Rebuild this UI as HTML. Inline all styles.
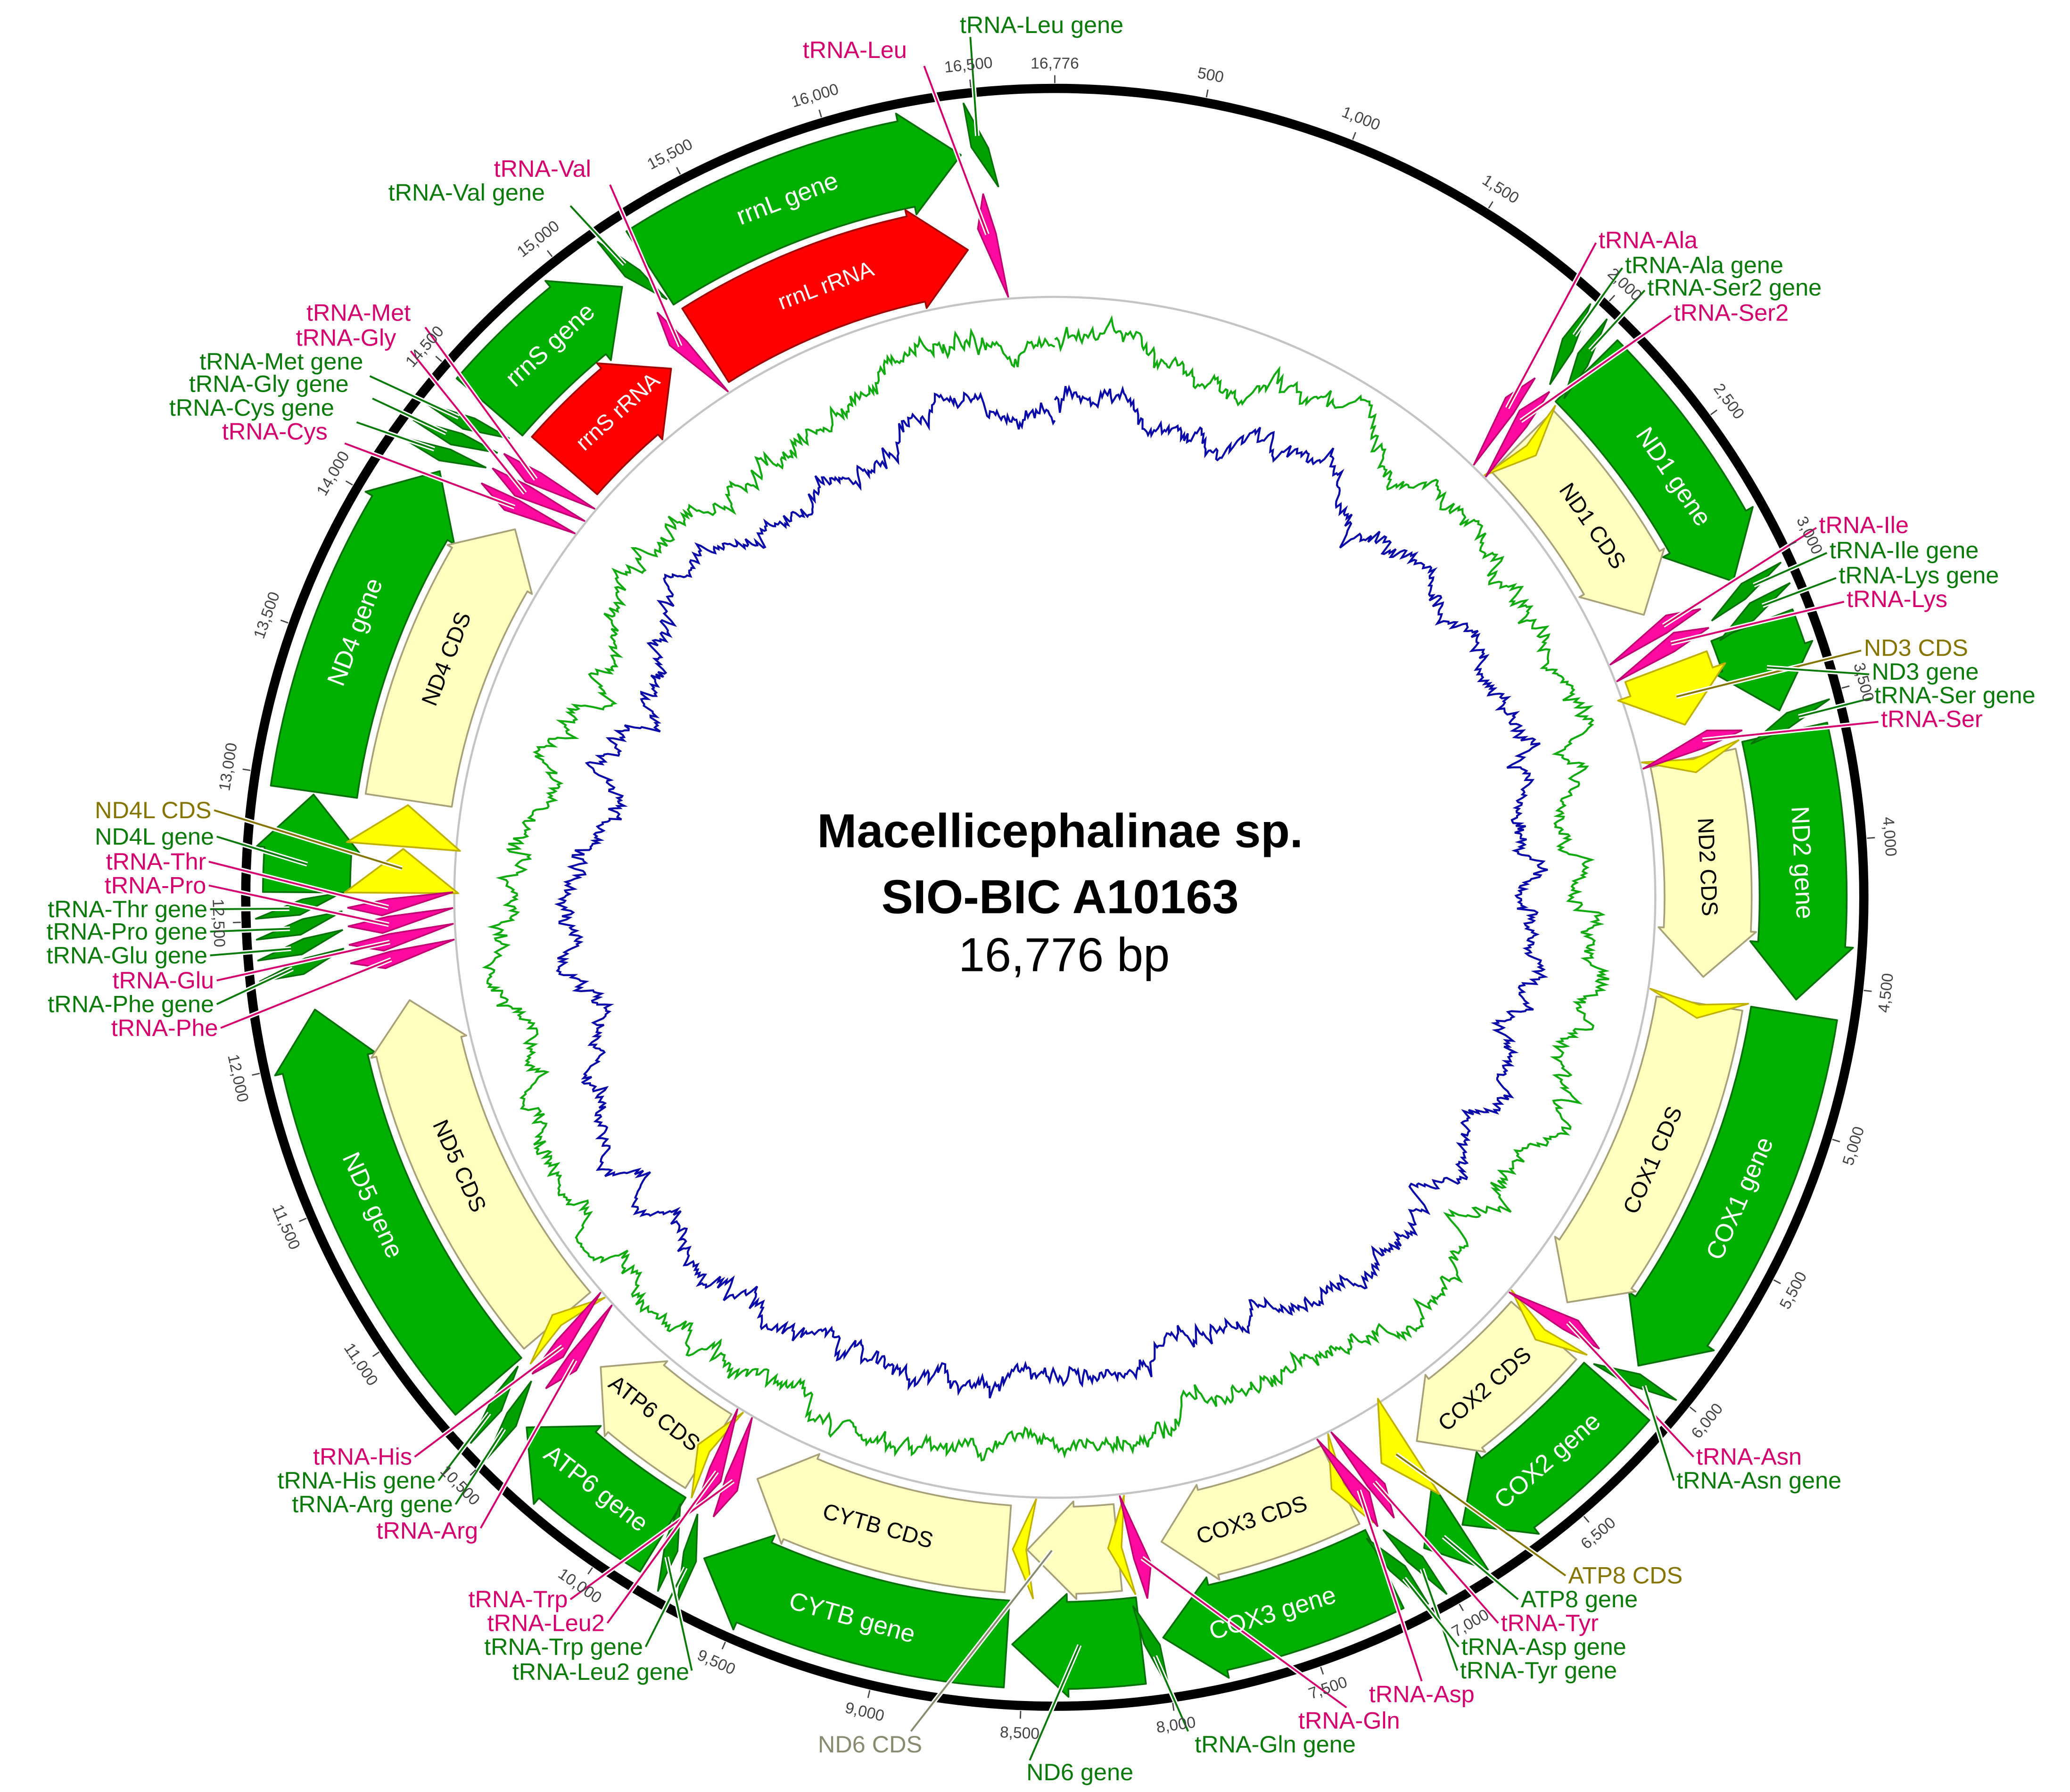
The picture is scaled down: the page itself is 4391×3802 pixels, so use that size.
<!DOCTYPE html>
<html><head><meta charset="utf-8">
<style>
html,body{margin:0;padding:0;background:#fff;}
svg{display:block;}
text{font-family:"Liberation Sans",sans-serif;}
.lp{fill:#d4006e;font-size:18px;}
.lg{fill:#0a7a0a;font-size:18px;}
.lo{fill:#857500;font-size:18px;}
.lx{fill:#8a8a70;font-size:18px;}
</style></head>
<body>
<svg id="s" width="4391" height="3802" viewBox="0 0 1568 1358" xmlns="http://www.w3.org/2000/svg">
<rect width="1568" height="1358" fill="#fff"/>
<g id="shapes"></g>
<g id="lines"></g>
<g id="ticks" font-size="12" fill="#444"></g>
<g id="ringtext"></g>
<text class="lg" x="727" y="25">tRNA-Leu gene</text>
<text class="lp" x="608" y="44">tRNA-Leu</text>
<text class="lp" x="374" y="134">tRNA-Val</text>
<text class="lg" x="294" y="152">tRNA-Val gene</text>
<text class="lp" x="232" y="243">tRNA-Met</text>
<text class="lp" x="224" y="262">tRNA-Gly</text>
<text class="lg" x="151" y="280">tRNA-Met gene</text>
<text class="lg" x="143" y="297">tRNA-Gly gene</text>
<text class="lg" x="128" y="315">tRNA-Cys gene</text>
<text class="lp" x="168" y="333">tRNA-Cys</text>

<text class="lp" x="1211" y="188">tRNA-Ala</text>
<text class="lg" x="1231" y="207">tRNA-Ala gene</text>
<text class="lg" x="1248" y="224">tRNA-Ser2 gene</text>
<text class="lp" x="1268" y="243">tRNA-Ser2</text>
<text class="lp" x="1378" y="404">tRNA-Ile</text>
<text class="lg" x="1386" y="423">tRNA-Ile gene</text>
<text class="lg" x="1393" y="442">tRNA-Lys gene</text>
<text class="lp" x="1399" y="460">tRNA-Lys</text>
<text class="lo" x="1412" y="497">ND3 CDS</text>
<text class="lg" x="1418" y="515">ND3 gene</text>
<text class="lg" x="1420" y="533">tRNA-Ser gene</text>
<text class="lp" x="1425" y="551">tRNA-Ser</text>

<text class="lo" x="160" y="620" text-anchor="end">ND4L CDS</text>
<text class="lg" x="162" y="640" text-anchor="end">ND4L gene</text>
<text class="lp" x="156" y="659" text-anchor="end">tRNA-Thr</text>
<text class="lp" x="156" y="677" text-anchor="end">tRNA-Pro</text>
<text class="lg" x="157" y="695" text-anchor="end">tRNA-Thr gene</text>
<text class="lg" x="157" y="712" text-anchor="end">tRNA-Pro gene</text>
<text class="lg" x="157" y="730" text-anchor="end">tRNA-Glu gene</text>
<text class="lp" x="162" y="749" text-anchor="end">tRNA-Glu</text>
<text class="lg" x="162" y="767" text-anchor="end">tRNA-Phe gene</text>
<text class="lp" x="165" y="785" text-anchor="end">tRNA-Phe</text>

<text class="lp" x="312" y="1110" text-anchor="end">tRNA-His</text>
<text class="lg" x="330" y="1128" text-anchor="end">tRNA-His gene</text>
<text class="lg" x="343" y="1146" text-anchor="end">tRNA-Arg gene</text>
<text class="lp" x="362" y="1166" text-anchor="end">tRNA-Arg</text>
<text class="lp" x="430" y="1218" text-anchor="end">tRNA-Trp</text>
<text class="lp" x="458" y="1236" text-anchor="end">tRNA-Leu2</text>
<text class="lg" x="487" y="1254" text-anchor="end">tRNA-Trp gene</text>
<text class="lg" x="522" y="1273" text-anchor="end">tRNA-Leu2 gene</text>
<text class="lx" x="659" y="1328" text-anchor="middle">ND6 CDS</text>
<text class="lg" x="818" y="1349" text-anchor="middle">ND6 gene</text>
<text class="lg" x="966" y="1328" text-anchor="middle">tRNA-Gln gene</text>
<text class="lp" x="1022" y="1310" text-anchor="middle">tRNA-Gln</text>
<text class="lp" x="1077" y="1290" text-anchor="middle">tRNA-Asp</text>
<text class="lg" x="1106" y="1272">tRNA-Tyr gene</text>
<text class="lg" x="1107" y="1254">tRNA-Asp gene</text>
<text class="lp" x="1137" y="1236">tRNA-Tyr</text>
<text class="lg" x="1152" y="1218">ATP8 gene</text>
<text class="lo" x="1188" y="1200">ATP8 CDS</text>
<text class="lp" x="1285" y="1110">tRNA-Asn</text>
<text class="lg" x="1270" y="1128">tRNA-Asn gene</text>

<text x="803" y="642" text-anchor="middle" font-size="36" font-weight="bold" fill="#000">Macellicephalinae sp.</text>
<text x="803" y="692" text-anchor="middle" font-size="36" font-weight="bold" fill="#000">SIO-BIC A10163</text>
<text x="806" y="736" text-anchor="middle" font-size="36" fill="#000">16,776 bp</text>
</svg>
<script>
(function(){
var NS="http://www.w3.org/2000/svg",CX=799,CY=680,L=16776;
function el(p,t,a){var e=document.createElementNS(NS,t);for(var k in a)e.setAttribute(k,a[k]);p.appendChild(e);return e;}
function P(bp,r){var a=bp/L*2*Math.PI;return [CX+r*Math.sin(a),CY-r*Math.cos(a)];}
function f(p){return p[0].toFixed(2)+","+p[1].toFixed(2);}
var G=document.getElementById("shapes"),LN=document.getElementById("lines"),T=document.getElementById("ticks"),RT=document.getElementById("ringtext");
var seed=12345;function rnd(){seed=(seed*16807)%2147483647;return seed/2147483647;}
var N=1800,v=0,w=0,g=[],b=[];
for(var i=0;i<=N;i++){
 v+=(rnd()-0.5)*10; if(rnd()<0.02)v+=(rnd()-0.5)*25; v*=0.97;
 w+=(rnd()-0.5)*7; w*=0.95;
 var th=i/N*2*Math.PI;
 var base=12*Math.sin(2*th+0.6)+8*Math.cos(3*th+0.3);
 var rg=415+v+base+(rnd()-0.5)*6; if(rg>446)rg=446-(rg-446)*0.3;
 var rb=368+0.7*v+0.8*base+w+(rnd()-0.5)*6; if(rb>rg-12)rb=rg-12-(rnd()*4);
 g.push(f(P(i/N*L,rg)));b.push(f(P(i/N*L,rb)));}
el(G,"polyline",{points:g.join(" "),fill:"none",stroke:"#11aa11","stroke-width":1.5});
el(G,"polyline",{points:b.join(" "),fill:"none",stroke:"#0a0aa8","stroke-width":1.5});
el(G,"circle",{cx:CX,cy:CY,r:455,fill:"none",stroke:"#c4c4c4","stroke-width":1.6});
el(G,"circle",{cx:CX,cy:CY,r:613,fill:"none",stroke:"#000","stroke-width":7});
function arc(r,a,b2,sw){var lg=(Math.abs(b2-a)>L/2)?1:0;return "A"+r+","+r+" 0 "+lg+","+sw+" "+f(P(b2,r));}
function arrow(s,e,r1,r2,fill,stroke,hpx,ext){
 var rm=(r1+r2)/2,h=hpx/rm*L/(2*Math.PI);if(h>e-s)h=e-s;var bb=e-h;
 var d="M"+f(P(s,r2))+arc(r2,s,bb,1)+"L"+f(P(bb,r2+ext))+"L"+f(P(e,rm))+"L"+f(P(bb,r1-ext))+"L"+f(P(bb,r1))+arc(r1,bb,s,0)+"Z";
 el(G,"path",{d:d,fill:fill,stroke:stroke,"stroke-width":1.3,"stroke-linejoin":"round"});}
function poly(pts,fill,stroke){el(G,"polygon",{points:pts.map(f).join(" "),fill:fill,stroke:stroke,"stroke-width":1.2});}
var GR=[534,600],CR=[462,528];
var GF="#00b000",GS="#087008",CF="#ffffc0",CS="#a8a078",YF="#ffff00",YS="#c0b000",RF="#ff0000",RS="#a00000",PF="#ff0aa0",PS="#c00070";
var genes=[[15250,16440],[14490,15130],[12960,14200],[12600,12950],[10680,12180],[9860,10480],[8560,9690],[8080,8540],[7170,8000],[6860,7010],[6120,6850],[4610,6000],[3600,4560],[3200,3520],[2110,3030]];
genes.forEach(function(x){arrow(x[0],x[1],GR[0],GR[1],GF,GS,42,6);});
var cds=[[2130,3000],[3620,4520],[4630,5980],[6130,6820],[7180,7950],[8580,9650],[9880,10440],[10700,12160],[12980,14180],[8130,8500]];
cds.forEach(function(x){arrow(x[0],x[1],CR[0],CR[1],CF,CS,36,4);});
arrow(14510,15100,CR[0],CR[1],RF,RS,40,5);
arrow(15270,16420,CR[0],CR[1],RF,RS,40,5);
[[3230,3480],[12600,12780],[12790,12960],[6860,6990]].forEach(function(x){arrow(x[0],x[1],CR[0],CR[1],YF,YS,34,10);});
[2120,3590,4600,6090,7130,8080,8470,9840,10640].forEach(function(s){var e=s+90;
 poly([P(s,CR[1]+4),P(e,(CR[0]+CR[1])/2),P(s,CR[0]-6),P(s+35,(CR[0]+CR[1])/2)],YF,YS);});
var tr=[["Leu",16470,16540],["Ala",1960,2025],["Ser2",2035,2100],["Ile",3040,3105],["Lys",3115,3185],["Ser",3525,3590],["Asn",6010,6075],["Tyr",7020,7085],["Asp",7090,7155],["Gln",8005,8070],["Trp",9700,9765],["Leu2",9775,9840],["Arg",10500,10565],["His",10575,10640],["Phe",12300,12365],["Glu",12370,12435],["Pro",12440,12505],["Thr",12510,12575],["Cys",14220,14285],["Gly",14290,14355],["Met",14360,14425],["Val",15150,15215]];
var TP={};
tr.forEach(function(t){var s=t[1],e=t[2],m=(s+e)/2;TP[t[0]]=m;
 poly([P(s,606),P(e,570),P(e+25,540),P(s+10,572)],"#00a000",GS);
 poly([P(m,536),P(s,510),P(e+30,456),P(e,505)],PF,PS);});
for(var k=500;k<=16500;k+=500){var p1=P(k,617),p2=P(k,623);el(T,"line",{x1:p1[0],y1:p1[1],x2:p2[0],y2:p2[1],stroke:"#444","stroke-width":1});
 var th=k/L*360,rot=(th>90&&th<270)?th-180:th,pp=P(k,634);
 var t=el(T,"text",{x:pp[0],y:pp[1],"text-anchor":"middle","dominant-baseline":"central",transform:"rotate("+rot.toFixed(1)+" "+pp[0].toFixed(1)+" "+pp[1].toFixed(1)+")"});
 t.textContent=k.toLocaleString("en-US");}
var p0=P(0,617),p02=P(0,623);el(T,"line",{x1:p0[0],y1:p0[1],x2:p02[0],y2:p02[1],stroke:"#444"});
var t0=el(T,"text",{x:799,y:52,"text-anchor":"middle"});t0.textContent="16,776";
function rl(txt,bp,r,col,sz){var th=bp/L*360,rot=(th>90&&th<270)?th-180:th,pp=P(bp,r);
 var t=el(RT,"text",{x:pp[0],y:pp[1],"text-anchor":"middle","dominant-baseline":"central",fill:col,"font-size":sz||19,
 transform:"rotate("+rot.toFixed(1)+" "+pp[0].toFixed(1)+" "+pp[1].toFixed(1)+")"});t.textContent=txt;}
rl("rrnL gene",15800,567,"#fff");rl("rrnL rRNA",15820,495,"#fff",17);
rl("rrnS gene",14800,567,"#fff");rl("rrnS rRNA",14820,495,"#fff",17);
rl("ND4 gene",13550,567,"#fff");rl("ND4 CDS",13580,495,"#000",17);
rl("ND5 gene",11450,567,"#fff");rl("ND5 CDS",11450,495,"#000",17);
rl("ATP6 gene",10150,567,"#fff");rl("ATP6 CDS",10150,495,"#000",17);
rl("CYTB gene",9120,567,"#fff");rl("CYTB CDS",9120,495,"#000",17);
rl("COX3 gene",7600,567,"#fff");rl("COX3 CDS",7570,495,"#000",17);
rl("COX2 gene",6470,567,"#fff");rl("COX2 CDS",6470,495,"#000",17);
rl("COX1 gene",5300,567,"#fff");rl("COX1 CDS",5300,495,"#000",17);
rl("ND2 gene",4070,567,"#fff");rl("ND2 CDS",4070,495,"#000",17);
rl("ND1 gene",2600,567,"#fff");rl("ND1 CDS",2580,495,"#000",17);
var PC="#d4006e",GC="#0a7a0a",OC="#857500";
function ld(x,y,bp,r,c){var p=P(bp,r);el(LN,"line",{x1:x,y1:y,x2:p[0],y2:p[1],stroke:"#fff","stroke-width":3.5});el(LN,"line",{x1:x,y1:y,x2:p[0],y2:p[1],stroke:c,"stroke-width":1.4});}
ld(735,28,TP.Leu,580,GC);ld(700,50,TP.Leu,505,PC);
ld(462,140,TP.Val,505,PC);ld(432,156,TP.Val,580,GC);
ld(322,248,TP.Met,505,PC);ld(311,266,TP.Gly,505,PC);ld(280,285,TP.Met,580,GC);ld(282,302,TP.Gly,580,GC);ld(270,320,TP.Cys,580,GC);ld(261,336,TP.Cys,505,PC);
ld(1209,184,TP.Ala,505,PC);ld(1229,203,TP.Ala,580,GC);ld(1246,220,TP.Ser2,580,GC);ld(1266,239,TP.Ser2,505,PC);
ld(1376,400,TP.Ile,505,PC);ld(1384,419,TP.Ile,580,GC);ld(1391,438,TP.Lys,580,GC);ld(1397,456,TP.Lys,505,PC);
ld(1410,493,3360,495,OC);ld(1416,511,3360,567,GC);ld(1418,529,TP.Ser,580,GC);ld(1423,547,TP.Ser,505,PC);
ld(162,614,12700,495,OC);ld(164,634,12700,567,GC);ld(158,653,TP.Thr,505,PC);ld(158,671,TP.Pro,505,PC);
ld(159,689,TP.Thr,580,GC);ld(159,706,TP.Pro,580,GC);ld(159,724,TP.Glu,580,GC);ld(164,743,TP.Glu,505,PC);ld(164,761,TP.Phe,580,GC);ld(167,779,TP.Phe,505,PC);
ld(314,1104,TP.His,505,PC);ld(332,1122,TP.His,580,GC);ld(345,1140,TP.Arg,580,GC);ld(364,1158,TP.Arg,505,PC);
ld(432,1212,TP.Trp,505,PC);ld(460,1230,TP.Leu2,505,PC);ld(489,1248,TP.Trp,580,GC);ld(524,1266,TP.Leu2,580,GC);
ld(690,1312,8400,495,"#8a8a70");ld(780,1334,8300,567,GC);ld(900,1312,TP.Gln,580,GC);ld(1020,1294,TP.Gln,505,PC);
ld(1077,1274,TP.Asp,505,PC);ld(1104,1266,TP.Tyr,580,GC);ld(1105,1248,TP.Asp,580,GC);ld(1135,1230,TP.Tyr,505,PC);
ld(1150,1212,6930,567,GC);ld(1186,1194,6920,495,OC);ld(1283,1104,TP.Asn,505,PC);ld(1268,1122,TP.Asn,580,GC);
})();
</script>
</body></html>
